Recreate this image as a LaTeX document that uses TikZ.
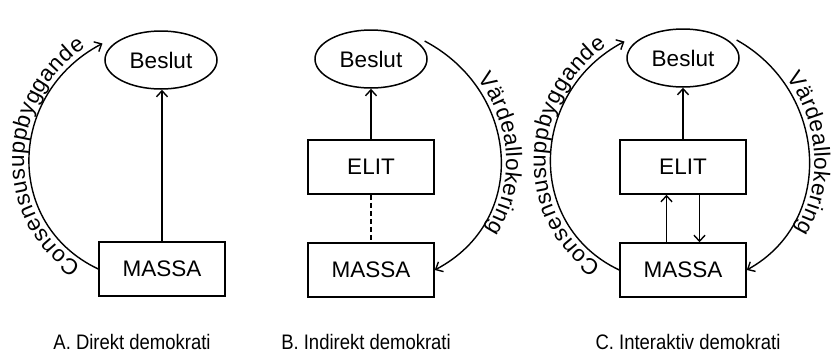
\documentclass[tikz,border=0pt]{standalone}
\usepackage{fontspec}
\setmainfont{Liberation Sans}
\newfontfamily\capfont[FakeStretch=0.88]{Liberation Sans}
\usetikzlibrary{arrows.meta,decorations.text,shapes.geometric}
\newcommand\rotfont{\fontsize{22.5}{22.5}\selectfont}
\begin{document}
\begin{tikzpicture}[x=1pt,y=-1pt,
  ellnode/.style={ellipse, draw, line width=1.5pt, minimum width=112pt, minimum height=58pt, inner sep=0pt, font=\fontsize{22.5}{22.5}\selectfont},
  boxnode/.style={rectangle, draw, line width=1.5pt, minimum width=126pt, minimum height=54pt, inner sep=0pt, font=\fontsize{22.5}{22.5}\selectfont},
  arrline/.style={line width=1.4pt, -{Straight Barb[length=6pt,width=11pt]}},
  plainline/.style={line width=1.4pt},
  captxt/.style={font=\capfont\fontsize{21}{21}\selectfont, anchor=base, inner sep=0pt},
  consensus/.style={decorate, decoration={text along path, text={|\rotfont|Consensusuppbyggande}, text align=center, raise=5pt}},
  varde/.style={decorate, decoration={text along path, text={|\rotfont|Värdeallokering}, text align=center, raise=5pt}},
]
\useasboundingbox (0,0) rectangle (833,357);

% Panel A
\node[ellnode] (bA) at (161,60) {Beslut};
\node[boxnode] (mA) at (162,269) {MASSA};
\draw[arrline] (mA.north) -- (mA.north |- bA.south);
\draw[arrline] (mA.west) .. controls +(-95,-45) and +(-95,50) .. ([shift={(-8,-3)}]bA.165);
\path[consensus] (mA.west) .. controls +(-95,-45) and +(-95,50) .. ([shift={(-8,-3)}]bA.165);
\node[captxt] (cA) at (132,349) {A. Direkt demokrati};

% Panel B
\node[ellnode] (bB) at (371,59) {Beslut};
\node[boxnode] (eB) at (371,167) {ELIT};
\node[boxnode] (mB) at (371,270) {MASSA};
\draw[arrline] (eB.north) -- (bB.south);
\draw[plainline, dash pattern=on 5pt off 3pt] (eB.south) -- (mB.north);
\draw[arrline] ([shift={(7,-1)}]bB.20) .. controls +(95,50) and +(95,-50) .. (mB.east);
\path[varde] ([shift={(7,-1)}]bB.20) .. controls +(95,50) and +(95,-50) .. (mB.east);
\node[captxt] (cB) at (366,349) {B. Indirekt demokrati};

% Panel C
\node[ellnode] (bC) at (683,58) {Beslut};
\node[boxnode] (eC) at (683,167) {ELIT};
\node[boxnode] (mC) at (683,270) {MASSA};
\draw[arrline] (eC.north) -- (bC.south);
\draw[arrline] ([xshift=-16.5pt]mC.north) -- ([xshift=-16.5pt]eC.south);
\draw[arrline] ([xshift=16.5pt]eC.south) -- ([xshift=16.5pt]mC.north);
\draw[arrline] (mC.west) .. controls +(-95,-45) and +(-95,50) .. ([shift={(-8,-3)}]bC.165);
\path[consensus] (mC.west) .. controls +(-95,-45) and +(-95,50) .. ([shift={(-8,-3)}]bC.165);
\draw[arrline] ([shift={(7,-1)}]bC.20) .. controls +(90,50) and +(90,-50) .. (mC.east);
\path[varde] ([shift={(7,-1)}]bC.20) .. controls +(90,50) and +(90,-50) .. (mC.east);
\node[captxt] (cC) at (688,349) {C. Interaktiv demokrati};
\end{tikzpicture}
\end{document}
